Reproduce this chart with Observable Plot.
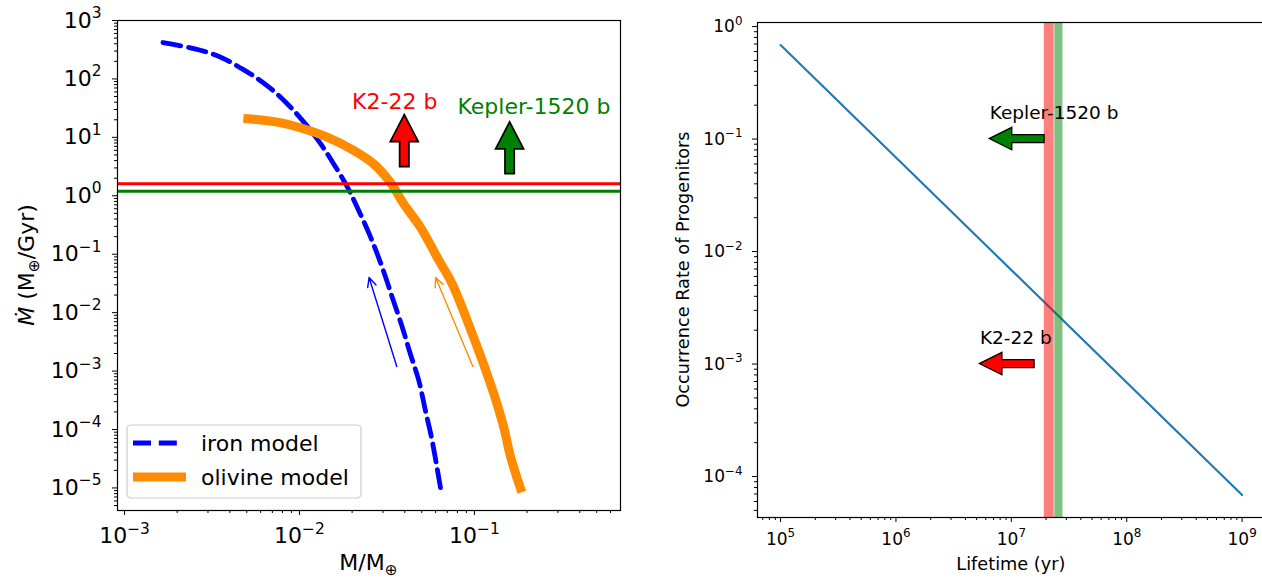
<!DOCTYPE html>
<html>
<head>
<meta charset="utf-8">
<script src="https://cdn.jsdelivr.net/npm/d3@7"></script>
<script src="https://cdn.jsdelivr.net/npm/@observablehq/plot@0.6"></script>
<style>
html, body { margin: 0; padding: 0; background: #fff; }
#fig { position: relative; width: 1262px; height: 579px; overflow: hidden; background: #fff; }
#left, #right { position: absolute; top: 0; width: 640px; height: 579px; }
#left { left: 0; }
#right { left: 640px; }
#fig svg { font-family: "DejaVu Sans", sans-serif; max-width: none !important; display: block; }
</style>
</head>
<body>
<div id="fig"><div id="left"></div><div id="right"></div></div>
<script>
// ---------- data (left panel) ----------
const ironMass = [0.00166, 0.00238, 0.00339, 0.00481, 0.00653, 0.00851, 0.0106, 0.0132, 0.0157, 0.0188, 0.0218, 0.0255, 0.0297, 0.0339, 0.0387, 0.0430, 0.0481, 0.0525, 0.0573, 0.064];
const ironRate = [420, 340, 250, 143, 77, 37.6, 18.2, 7.8, 3.5, 1.41, 0.56, 0.196, 0.060, 0.0184, 0.00565, 0.00198, 0.00069, 0.00021, 0.000065, 0.00001];
const olivineMass = [0.00507, 0.00747, 0.0101, 0.0144, 0.0204, 0.0266, 0.0331, 0.0394, 0.0491, 0.0612, 0.0747, 0.0908, 0.111, 0.129, 0.147, 0.161, 0.183];
const olivineRate = [20.8, 18.2, 14.6, 10.1, 6.0, 3.5, 1.69, 0.73, 0.29, 0.089, 0.031, 0.0074, 0.0015, 0.00041, 0.00011, 0.000034, 0.00001];
const modelNames = ["iron model", "olivine model"];

const planetNames = ["K2-22 b", "Kepler-1520 b"];
const planetColors = ["red", "green"];
const planetRate = [1.6, 1.2];
const leftArrowMass = [0.04, 0.16];
const leftArrowFrom = [3.1, 2.35];
const leftArrowTo = [24, 18];
const leftLabelMass = [0.02, 0.08];
const leftLabelRate = [31, 25];

const trackColors = ["blue", "darkorange"];
const trackMassFrom = [0.036, 0.098];
const trackRateFrom = [0.0012, 0.0012];
const trackMassTo = [0.025, 0.06];
const trackRateTo = [0.04, 0.04];

const leftXTicks = [1e-3, 1e-2, 1e-1];
const leftXTickLabels = ["10^−3", "10^−2", "10^−1"];
const leftYTicks = [1e-5, 1e-4, 1e-3, 1e-2, 1e-1, 1e0, 1e1, 1e2, 1e3];
const leftYTickLabels = ["10^−5", "10^−4", "10^−3", "10^−2", "10^−1", "10^0", "10^1", "10^2", "10^3"];

// ---------- data (right panel) ----------
const lifetime = [1e5, 1e9];
const occurrence = [0.685, 6.85e-5];
const bandFrom = [1.93e7, 2.38e7];
const bandTo = [2.35e7, 2.8e7];
const rightArrowRate = [1e-3, 0.1];
const rightArrowTail = [1.59e7, 1.94e7];
const rightArrowTip = [5.34e6, 6.5e6];
const rightLabelLifetime = [5.34e6, 6.5e6];
const rightLabelRate = [1.5e-3, 0.15];

const rightXTicks = [1e5, 1e6, 1e7, 1e8, 1e9];
const rightXTickLabels = ["10^5", "10^6", "10^7", "10^8", "10^9"];
const rightYTicks = [1e-4, 1e-3, 1e-2, 1e-1, 1e0];
const rightYTickLabels = ["10^−4", "10^−3", "10^−2", "10^−1", "10^0"];

// ---------- helpers ----------
function minorTicks(lo, hi) {
  const out = [];
  for (let e = Math.floor(Math.log10(lo)) - 1; e <= Math.ceil(Math.log10(hi)); e++)
    for (let m = 2; m <= 9; m++) { const v = m * Math.pow(10, e); if (v >= lo && v <= hi) out.push(v); }
  return out;
}
function labeler(ticks, labels) { const m = new Map(ticks.map((t, i) => [t, labels[i]])); return d => m.get(d) ?? ""; }

function blockArrows(rows, {shaft, headW, headL, strokeW}) {
  return (index, scales) => {
    const g = d3.create("svg:g");
    for (const a of rows) {
      const x1 = scales.x(a.x1), y1 = scales.y(a.y1), x2 = scales.x(a.x2), y2 = scales.y(a.y2);
      const dx = x2 - x1, dy = y2 - y1, L = Math.hypot(dx, dy), ux = dx / L, uy = dy / L, nx = -uy, ny = ux;
      const bx = x2 - ux * headL, by = y2 - uy * headL;
      const s = shaft / 2, h = headW / 2;
      const pts = [[x1 + nx * s, y1 + ny * s], [bx + nx * s, by + ny * s], [bx + nx * h, by + ny * h], [x2, y2],
                   [bx - nx * h, by - ny * h], [bx - nx * s, by - ny * s], [x1 - nx * s, y1 - ny * s]];
      g.append("polygon").attr("points", pts.map(p => p.join(",")).join(" "))
        .attr("fill", a.color).attr("stroke", "black").attr("stroke-width", strokeW).attr("stroke-linejoin", "miter");
    }
    return g.node();
  };
}

function superscriptify(svg) {
  d3.select(svg).selectAll("text").each(function () {
    const t = this.textContent;
    if (!t.includes("^")) return;
    const [base, exp] = t.split("^");
    const sel = d3.select(this);
    sel.text(null);
    sel.append("tspan").text(base);
    sel.append("tspan").attr("font-size", "70%").attr("dy", "-0.62em").text(exp);
  });
}

// ---------- left panel ----------
const iron = ironMass.map((m, i) => ({mass: m, rate: ironRate[i]}));
const olivine = olivineMass.map((m, i) => ({mass: m, rate: olivineRate[i]}));
const planetsL = planetNames.map((n, i) => ({name: n, color: planetColors[i], rate: planetRate[i],
  x1: leftArrowMass[i], y1: leftArrowFrom[i], x2: leftArrowMass[i], y2: leftArrowTo[i],
  lx: leftLabelMass[i], ly: leftLabelRate[i]}));
const tracks = trackColors.map((c, i) => ({color: c, x1: trackMassFrom[i], y1: trackRateFrom[i], x2: trackMassTo[i], y2: trackRateTo[i]}));

const lxDomain = [Math.pow(10, -3.04), Math.pow(10, -0.165)];
const lyDomain = [Math.pow(10, -5.386), 1e3];

const leftLegend = (index, scales, values, dims) => {
  const g = d3.create("svg:g");
  const x0 = dims.marginLeft + 10, y0 = dims.height - dims.marginBottom - 85;
  g.append("rect").attr("x", x0).attr("y", y0).attr("width", 234).attr("height", 73).attr("rx", 4)
    .attr("fill", "white").attr("fill-opacity", 0.8).attr("stroke", "#cccccc").attr("stroke-width", 1.2);
  const rows = [
    {y: y0 + 18, stroke: "blue", w: 4.8, dash: "18,7.8", cap: "butt", x1: x0 + 6, x2: x0 + 50},
    {y: y0 + 52, stroke: "darkorange", w: 9, dash: null, cap: "square", x1: x0 + 10.5, x2: x0 + 54.5}
  ];
  rows.forEach((r, i) => {
    g.append("line").attr("x1", r.x1).attr("x2", r.x2).attr("y1", r.y).attr("y2", r.y)
      .attr("stroke", r.stroke).attr("stroke-width", r.w).attr("stroke-dasharray", r.dash).attr("stroke-linecap", r.cap);
    g.append("text").attr("x", x0 + 74).attr("y", r.y).attr("dy", "0.36em").attr("text-anchor", "start")
      .attr("font-size", 22).attr("fill", "black").text(modelNames[i]);
  });
  return g.node();
};

const leftLabels = (index, scales, values, dims) => {
  const g = d3.create("svg:g").attr("fill", "black");
  const cx = dims.marginLeft + (dims.width - dims.marginLeft - dims.marginRight) / 2;
  const cy = dims.marginTop + (dims.height - dims.marginTop - dims.marginBottom) / 2;
  const xl = g.append("text").attr("x", cx).attr("y", 570).attr("text-anchor", "middle").attr("font-size", 22);
  xl.append("tspan").text("M/M");
  xl.append("tspan").attr("font-size", "70%").attr("dy", "0.3em").text("⊕");
  const yl = g.append("text").attr("transform", `translate(34,${cy}) rotate(-90)`).attr("text-anchor", "middle").attr("font-size", 22);
  yl.append("tspan").attr("font-style", "italic").text("Ṁ");
  yl.append("tspan").text(" (M");
  yl.append("tspan").attr("font-size", "70%").attr("dy", "0.3em").text("⊕");
  yl.append("tspan").attr("dy", "-0.21em").text("/Gyr)");
  return g.node();
};

const leftPlot = Plot.plot({
  width: 640, height: 579,
  marginLeft: 117, marginRight: 20, marginTop: 20, marginBottom: 69,
  style: {fontFamily: "DejaVu Sans", fontSize: "22px", color: "black", background: "transparent", overflow: "visible"},
  x: {type: "log", domain: lxDomain, label: null},
  y: {type: "log", domain: lyDomain, label: null},
  marks: [
    Plot.line(iron, {x: "mass", y: "rate", stroke: "blue", strokeWidth: 4.8, strokeDasharray: "18,7.8", curve: "catmull-rom"}),
    Plot.line(olivine, {x: "mass", y: "rate", stroke: "darkorange", strokeWidth: 9, strokeLinecap: "square", strokeLinejoin: "round", curve: "catmull-rom"}),
    Plot.ruleY(planetsL, {y: "rate", stroke: "color", strokeWidth: 3}),
    Plot.arrow(tracks, {x1: "x1", y1: "y1", x2: "x2", y2: "y2", stroke: "color", strokeWidth: 1.4, headLength: 11, headAngle: 50}),
    blockArrows(planetsL, {shaft: 9.3, headW: 28, headL: 27, strokeW: 1.7}),
    Plot.text(planetsL, {x: "lx", y: "ly", text: "name", fill: "color", textAnchor: "start", lineAnchor: "bottom", fontSize: 22}),
    leftLegend,
    Plot.axisX(minorTicks(...lxDomain), {tickSize: 3, tickFormat: () => "", label: null}),
    Plot.axisY(minorTicks(...lyDomain), {tickSize: 3, tickFormat: () => "", label: null}),
    Plot.axisX(leftXTicks, {tickSize: 5, tickPadding: 12, tickFormat: labeler(leftXTicks, leftXTickLabels), label: null, fontSize: 22}),
    Plot.axisY(leftYTicks, {tickSize: 5, tickPadding: 11, tickFormat: labeler(leftYTicks, leftYTickLabels), label: null, fontSize: 22}),
    Plot.frame({stroke: "black", strokeWidth: 1.2}),
    leftLabels
  ]
});
superscriptify(leftPlot);
document.getElementById("left").append(leftPlot);

// ---------- right panel ----------
const progenitors = lifetime.map((t, i) => ({t, r: occurrence[i]}));
const bands = bandFrom.map((a, i) => ({a, b: bandTo[i], color: planetColors[i]}));
const planetsR = planetNames.map((n, i) => ({name: n, color: planetColors[i],
  x1: rightArrowTail[i], y1: rightArrowRate[i], x2: rightArrowTip[i], y2: rightArrowRate[i],
  lx: rightLabelLifetime[i], ly: rightLabelRate[i]}));

const rxDomain = [Math.pow(10, 4.8), Math.pow(10, 9.2)];
const ryDomain = [Math.pow(10, -4.364), Math.pow(10, 0.036)];

const rightLabels = (index, scales, values, dims) => {
  const g = d3.create("svg:g").attr("fill", "black").attr("font-size", 17.7);
  const cx = dims.marginLeft + (dims.width - dims.marginLeft - dims.marginRight) / 2;
  const cy = dims.marginTop + (dims.height - dims.marginTop - dims.marginBottom) / 2;
  g.append("text").attr("x", cx).attr("y", 570).attr("text-anchor", "middle").text("Lifetime (yr)");
  g.append("text").attr("transform", `translate(49,${cy}) rotate(-90)`).attr("text-anchor", "middle").text("Occurrence Rate of Progenitors");
  return g.node();
};

const rightPlot = Plot.plot({
  width: 640, height: 579,
  marginLeft: 117, marginRight: 15.3, marginTop: 22, marginBottom: 62,
  style: {fontFamily: "DejaVu Sans", fontSize: "17px", color: "black", background: "transparent", overflow: "visible"},
  x: {type: "log", domain: rxDomain, label: null},
  y: {type: "log", domain: ryDomain, label: null},
  marks: [
    Plot.line(progenitors, {x: "t", y: "r", stroke: "#1f77b4", strokeWidth: 2.1}),
    Plot.rect(bands, {x1: "a", x2: "b", fill: "color", fillOpacity: 0.5}),
    blockArrows(planetsR, {shaft: 8, headW: 22.5, headL: 22.5, strokeW: 1.3}),
    Plot.text(planetsR, {x: "lx", y: "ly", text: "name", fill: "black", textAnchor: "start", lineAnchor: "bottom", fontSize: 18.5}),
    Plot.axisX(minorTicks(...rxDomain), {tickSize: 3, tickFormat: () => "", label: null}),
    Plot.axisY(minorTicks(...ryDomain), {tickSize: 3, tickFormat: () => "", label: null}),
    Plot.axisX(rightXTicks, {tickSize: 5, tickPadding: 10, tickFormat: labeler(rightXTicks, rightXTickLabels), label: null, fontSize: 17}),
    Plot.axisY(rightYTicks, {tickSize: 5, tickPadding: 10, tickFormat: labeler(rightYTicks, rightYTickLabels), label: null, fontSize: 17}),
    Plot.frame({stroke: "black", strokeWidth: 1.2}),
    rightLabels
  ]
});
superscriptify(rightPlot);
document.getElementById("right").append(rightPlot);
</script>
</body>
</html>
